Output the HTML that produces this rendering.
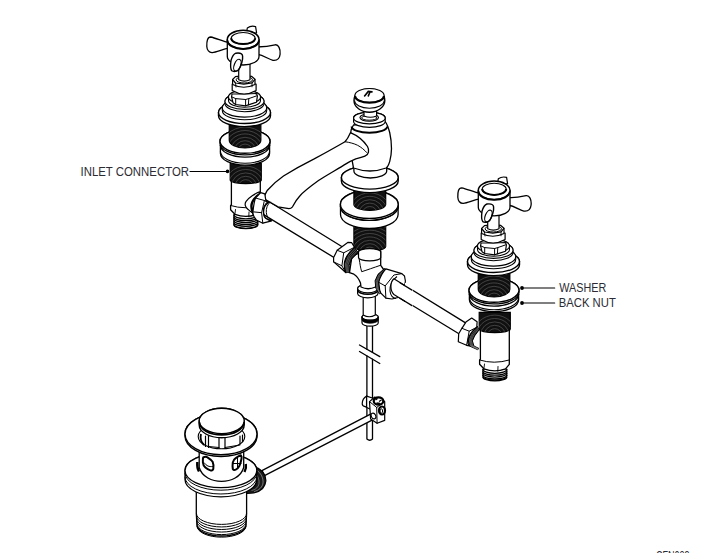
<!DOCTYPE html><html><head><meta charset="utf-8"><style>html,body{margin:0;padding:0;background:#fff;width:720px;height:553px;overflow:hidden}</style></head><body><svg width="720" height="553" viewBox="0 0 720 553" style="position:absolute;left:0;top:0">
<defs><clipPath id="c1"><path d="M353.9,220 L353.9,246.5 A15.9,4.5 0 0 0 385.7,246.5 L385.7,220 Z"/></clipPath><clipPath id="c2"><path d="M353.9,190 L353.9,204.6 A15.9,5.8 0 0 0 385.7,204.6 L385.7,190 Z"/></clipPath><clipPath id="c3"><path d="M230.2,163.4 L230.2,180 A15.55,3.6 0 0 0 261.3,180 L261.3,163.4 Z"/></clipPath><clipPath id="c4"><path d="M229.25,124.3 L229.25,140.2 A15.8,7.8 0 0 0 260.85,140.2 L260.85,124.3 Z"/></clipPath><clipPath id="c5"><path d="M230.2,163.4 L230.2,180 A15.55,3.6 0 0 0 261.3,180 L261.3,163.4 Z"/></clipPath><clipPath id="c6"><path d="M229.25,124.3 L229.25,140.2 A15.8,7.8 0 0 0 260.85,140.2 L260.85,124.3 Z"/></clipPath></defs>
<path d="M262,197.3 L345,248.5 L345,264.2 L262,213.6 Z" fill="#fff" stroke="#000" stroke-width="1.3" stroke-linejoin="round" stroke-linecap="round"/>
<path d="M390,276.3 L470,325.6 L470,340.5 L390,291.7 Z" fill="#fff" stroke="#000" stroke-width="1.3" stroke-linejoin="round" stroke-linecap="round"/>
<path d="M353.9,220 L353.9,246.5 A15.9,4.5 0 0 0 385.7,246.5 L385.7,220 Z" fill="#111" stroke="#000" stroke-width="1.2"/>
<g clip-path="url(#c1)" fill="none" stroke="#fff" stroke-width="0.8" opacity="0.26"><ellipse cx="369.8" cy="254" rx="7.25" ry="6.9"/><ellipse cx="369.8" cy="254" rx="10.82" ry="10.3"/><ellipse cx="369.8" cy="254" rx="14.39" ry="13.7"/><ellipse cx="369.8" cy="254" rx="17.96" ry="17.1"/><ellipse cx="369.8" cy="254" rx="21.53" ry="20.5"/><ellipse cx="369.8" cy="254" rx="25.09" ry="23.9"/><ellipse cx="369.8" cy="254" rx="28.66" ry="27.3"/><ellipse cx="369.8" cy="254" rx="32.23" ry="30.7"/></g>
<path d="M340.5,206.4 L340.5,214.5 A28.8,14 0 0 0 398.1,214.5 L398.1,206.4 A28.8,14 0 0 0 340.5,206.4 Z" fill="#fff" stroke="#000" stroke-width="1.3" stroke-linejoin="round" stroke-linecap="round"/>
<ellipse cx="369.3" cy="206.4" rx="28.8" ry="14" fill="#fff" stroke="#000" stroke-width="1.3"/>
<path d="M340.4,204.4 L340.4,206.3 A28.9,14 0 0 0 398.2,206.3 L398.2,204.4 A28.9,14 0 0 0 340.4,204.4 Z" fill="#fff" stroke="#000" stroke-width="1.3" stroke-linejoin="round" stroke-linecap="round"/>
<ellipse cx="369.3" cy="204.4" rx="28.9" ry="14" fill="#fff" stroke="#000" stroke-width="1.4"/>
<path d="M353.9,190 L353.9,204.6 A15.9,5.8 0 0 0 385.7,204.6 L385.7,190 Z" fill="#111" stroke="#000" stroke-width="1.2"/>
<g clip-path="url(#c2)" fill="none" stroke="#fff" stroke-width="0.8" opacity="0.26"><ellipse cx="369.8" cy="213.4" rx="7.25" ry="6.9"/><ellipse cx="369.8" cy="213.4" rx="10.82" ry="10.3"/><ellipse cx="369.8" cy="213.4" rx="14.39" ry="13.7"/><ellipse cx="369.8" cy="213.4" rx="17.96" ry="17.1"/><ellipse cx="369.8" cy="213.4" rx="21.53" ry="20.5"/></g>
<path d="M341.4,177.5 L341.4,181 A28.4,11.6 0 0 0 398.2,181 L398.2,177.5 A28.4,11.6 0 0 0 341.4,177.5 Z" fill="#fff" stroke="#000" stroke-width="1.4" stroke-linejoin="round" stroke-linecap="round"/>
<ellipse cx="369.8" cy="177.5" rx="28.4" ry="11.6" fill="#fff" stroke="#000" stroke-width="1.4"/>
<path d="M353.9,164 L353.9,171 A16.4,7 0 0 0 386.7,171 L386.7,164 A16.4,7 0 0 0 353.9,164 Z" fill="#fff" stroke="#000" stroke-width="1.3" stroke-linejoin="round" stroke-linecap="round"/>
<path d="M353.5,125 C351.5,128 350.8,131 350.8,132 L351,150 C351.5,158 352.6,164 353.5,168 Q370,174 386.1,168 C389,166 391.3,158 391.5,148.8 C391.5,142 390.5,136 389.7,132.5 C388.5,128 387,124 385.2,121.6 Z" fill="#fff" stroke="#000" stroke-width="1.3" stroke-linejoin="round" stroke-linecap="round"/>
<path d="M351.6,126.5 A17.8,6.2 0 0 0 387.2,126.5" fill="none" stroke="#000" stroke-width="2.0"/>
<path d="M353.6,118 L353.6,121.5 A15.8,5.9 0 0 0 385.2,121.5 L385.2,118 A15.8,5.9 0 0 0 353.6,118 Z" fill="#fff" stroke="#000" stroke-width="1.2" stroke-linejoin="round" stroke-linecap="round"/>
<ellipse cx="369.4" cy="118" rx="15.8" ry="5.9" fill="#fff" stroke="#000" stroke-width="1.2"/>
<ellipse cx="369.2" cy="117.6" rx="9.3" ry="3.6" fill="#fff" stroke="#000" stroke-width="1.1"/>
<ellipse cx="369.2" cy="117.9" rx="7.6" ry="2.3" fill="#fff" stroke="#000" stroke-width="1.0"/>
<path d="M364,107 L364,116 Q370.3,118.5 376.6,116 L376.6,107 Z" fill="#fff" stroke="#000" stroke-width="1.2" stroke-linejoin="round" stroke-linecap="round"/>
<ellipse cx="369.4" cy="100.4" rx="15.4" ry="11.8" fill="#fff" stroke="#000" stroke-width="1.4"/>
<path d="M354.6,100.6 A14.8,7.6 0 0 0 384.2,100.6" fill="none" stroke="#000" stroke-width="1.1"/>
<ellipse cx="369.5" cy="95.5" rx="14.6" ry="7" fill="#fff" stroke="#000" stroke-width="1.2"/>
<path d="M355.1,95.9 A14.4,6.8 0 0 0 383.9,95.9" fill="none" stroke="#000" stroke-width="2.2"/>
<path d="M364.6,96 L368.3,91.4 L372,91.9 M369.8,92.5 L368.3,95.8" fill="none" stroke="#000" stroke-width="1.6" stroke-linecap="round"/>
<path d="M350.4,132.7 C356,135 363,140 367.5,146.5 C369.5,150 369,154.5 364.9,156.2 C362,157.5 358.5,158.3 355.8,158.9 C352,160.5 349,162 346.8,163.4 C336,170 327,175 319.7,179.7 C311,186 304,191 299.8,196 C296,200 294,204 292.5,206.8 Q291,208.6 288.9,208.6 L278,206.8 L265.4,199.6 C264.5,198 264.3,197 264.5,196 C265.5,193.5 266.5,191.8 267.2,190.5 C272,185 277,180.5 283.5,176 C294,169.5 304,164 314.2,158.9 C325,153 335,147.5 345,141.7 C347,139.5 349,136 350.4,132.7 Z" fill="#fff" stroke="#000" stroke-width="1.3" stroke-linejoin="round" stroke-linecap="round"/>
<path d="M345,141.7 C350,142.5 354,143.5 357.6,145.3 C361,147 364.5,150 366.7,152.5" fill="none" stroke="#000" stroke-width="1.0" stroke-linecap="round"/>
<path d="M366.9,322 L366.9,349.2 M372.5,322 L372.5,352.4" fill="none" stroke="#000" stroke-width="1.3" stroke-linecap="round"/>
<path d="M366.9,355.9 L366.9,439 Q369.7,441.5 372.5,439 L372.5,359.2" fill="none" stroke="#000" stroke-width="1.3" stroke-linejoin="round" stroke-linecap="round"/>
<path d="M359.5,345 L379.8,356.6 M359.5,351.5 L379.8,363.5" fill="none" stroke="#000" stroke-width="1.3" stroke-linecap="round"/>
<path d="M362,317 L362,323 A8.1,3.2 0 0 0 378.2,323 L378.2,317 A8.1,3.2 0 0 0 362,317 Z" fill="#fff" stroke="#000" stroke-width="1.2" stroke-linejoin="round" stroke-linecap="round"/>
<ellipse cx="370.1" cy="317" rx="8.1" ry="3.2" fill="#fff" stroke="#000" stroke-width="1.2"/>
<path d="M362,317 A8.1,3.2 0 0 0 378.2,317 L378.2,320 A8.1,3.2 0 0 1 362,320 Z" fill="#000" stroke="#000" stroke-width="0.8" stroke-linejoin="round" stroke-linecap="round"/>
<path d="M363.2,296 L363.2,315 Q369.2,318.5 375.3,315 L375.3,296 Z" fill="#fff" stroke="#000" stroke-width="1.2" stroke-linejoin="round" stroke-linecap="round"/>
<path d="M357.6,288.5 L357.6,293.5 A10.2,4.3 0 0 0 378,293.5 L378,288.5 A10.2,4.3 0 0 0 357.6,288.5 Z" fill="#fff" stroke="#000" stroke-width="1.2" stroke-linejoin="round" stroke-linecap="round"/>
<ellipse cx="367.8" cy="288.5" rx="10.2" ry="4.3" fill="#fff" stroke="#000" stroke-width="1.2"/>
<path d="M357.7,290 A10.1,4.3 0 0 0 377.9,290" fill="none" stroke="#000" stroke-width="1.6"/>
<path d="M358.5,251 L358.5,253.5 L352,256 L349.5,272.7 L353.9,274.2 C357,276 359,279 360.5,283 L361,287 Q368,290.5 375.5,287 L376,283 C377,280.5 378,278 379.4,276 L384,270 L380.7,265.4 L380.7,251 Z" fill="#fff" stroke="#000" stroke-width="1.3" stroke-linejoin="round" stroke-linecap="round"/>
<path d="M358.5,252 L358.5,257.5 A11.1,3.3 0 0 0 380.7,257.5 L380.7,252 A11.1,3.3 0 0 0 358.5,252 Z" fill="#fff" stroke="#000" stroke-width="1.2" stroke-linejoin="round" stroke-linecap="round"/>
<path d="M359.2,259 C360,264 360.5,268 361.7,271.7 C367,270 374,267.5 380.2,265.4" fill="none" stroke="#000" stroke-width="1.0" stroke-linecap="round"/>
<path d="M353.9,247 L347.4,254.6 L344.1,263.3 L345.2,272 L349.5,272.7 L349.2,265.5 L351.7,259 L358.2,252.5 Z" fill="#141414" stroke="#000" stroke-width="1.0" stroke-linejoin="round"/>
<path d="M355.0,248.4 L348.5,255.7 L345.4,263.9 L346.3,272.2" fill="none" stroke="#fff" stroke-width="0.5" opacity="0.55"/>
<path d="M356.0,249.8 L349.5,256.8 L346.6,264.4 L347.4,272.4" fill="none" stroke="#fff" stroke-width="0.5" opacity="0.55"/>
<path d="M357.1,251.1 L350.6,257.9 L347.9,264.9 L348.4,272.5" fill="none" stroke="#fff" stroke-width="0.5" opacity="0.55"/>
<path d="M337.2,250.3 L348.1,242.3 L351.7,242.7 L354.6,247.4 C350,251 346,256 344.5,262 C344,266 344.5,270 345.9,272.7 L341.9,269 L333.6,261.9 L333.6,257.5 Z" fill="#fff" stroke="#000" stroke-width="1.2" stroke-linejoin="round" stroke-linecap="round"/>
<path d="M337.2,250.3 L343.7,252.8 L354,247.5 M343.7,252.8 L341.9,265.8 L333.6,261.9 M341.9,265.8 L345.9,272.7" fill="none" stroke="#000" stroke-width="1.0" stroke-linecap="round"/>
<path d="M384.5,268.5 L378,274.3 L375.1,280.8 L375.8,288 L379.4,293.8 L380.9,293.1 L379.4,289.5 L379,283 L381.6,276.5 L388.1,270.7 Z" fill="#141414" stroke="#000" stroke-width="1.0" stroke-linejoin="round"/>
<path d="M385.4,269.1 L378.9,274.9 L376.1,281.4 L376.7,288.4 L379.8,293.6" fill="none" stroke="#fff" stroke-width="0.5" opacity="0.55"/>
<path d="M386.3,269.6 L379.8,275.4 L377.1,281.9 L377.6,288.8 L380.1,293.5" fill="none" stroke="#fff" stroke-width="0.5" opacity="0.55"/>
<path d="M387.2,270.1 L380.7,275.9 L378.0,282.4 L378.5,289.1 L380.5,293.3" fill="none" stroke="#fff" stroke-width="0.5" opacity="0.55"/>
<path d="M385.9,268.9 L401.8,273.6 L404.5,276 L405.4,281 L404,290 L398,297.5 L392,299 L385.9,298.2 L380.9,293.1 C379.8,291 379.2,289 379.2,286 L378.7,282.3 C380,277 383,272 385.9,268.9 Z" fill="#fff" stroke="#000" stroke-width="1.2" stroke-linejoin="round" stroke-linecap="round"/>
<path d="M378.7,282.3 L385.2,285.9 L393.9,275 L401.8,273.6 M385.2,285.9 L385.9,298.2" fill="none" stroke="#000" stroke-width="1.0" stroke-linecap="round"/>
<path d="M397,276.5 C392,280 389.5,286 390,291 C390.5,295 393,298 396,298.5" fill="none" stroke="#000" stroke-width="1.1"/>
<path d="M393.9,278.8 L412,290 L412,305.7 L393.9,294.5 C391.8,292.5 390.9,290 390.9,286.5 C390.9,283 392,280.5 393.9,278.8 Z" fill="#fff" stroke="#000" stroke-width="1.2" stroke-linejoin="round" stroke-linecap="round"/>
<rect x="405" y="283" width="8" height="25" fill="#fff"/>
<path d="M400,282.8 L412,290.1 M400,298.2 L412,305.6" fill="none" stroke="#000" stroke-width="1.3" stroke-linecap="round"/>
<g id="vl">
<path d="M233.9,214.5 L233.9,224.7 A11.95,4 0 0 0 257.8,224.7 L257.8,214.5 Z" fill="#fff" stroke="#000" stroke-width="1.2" stroke-linejoin="round" stroke-linecap="round"/>
<path d="M233.9,214.8 A11.95,4 0 0 0 257.8,214.8" fill="none" stroke="#000" stroke-width="1.3"/>
<path d="M233.9,216.7 A11.95,4 0 0 0 257.8,216.7" fill="none" stroke="#000" stroke-width="1.3"/>
<path d="M233.9,218.6 A11.95,4 0 0 0 257.8,218.6" fill="none" stroke="#000" stroke-width="1.3"/>
<path d="M233.9,220.5 A11.95,4 0 0 0 257.8,220.5" fill="none" stroke="#000" stroke-width="1.3"/>
<path d="M233.9,222.4 A11.95,4 0 0 0 257.8,222.4" fill="none" stroke="#000" stroke-width="1.3"/>
<path d="M233.9,224.3 A11.95,4 0 0 0 257.8,224.3" fill="none" stroke="#000" stroke-width="1.3"/>
<path d="M231.4,180 L231.4,204.8 L230.6,205.5 L230.6,209.8 L234.9,214.3 Q246,218.5 256.5,214.3 L260.3,209.8 L260.3,180 Z" fill="#fff" stroke="#000" stroke-width="1.3" stroke-linejoin="round" stroke-linecap="round"/>
<path d="M230.6,205.5 Q245,210 260.3,205.5" fill="none" stroke="#000" stroke-width="1.0" stroke-linecap="round"/>
<path d="M234.9,214.3 L235.5,209.5 M248.8,216.8 L249,212" fill="none" stroke="#000" stroke-width="0.9" stroke-linecap="round"/>
<path d="M230.2,163.4 L230.2,180 A15.55,3.6 0 0 0 261.3,180 L261.3,163.4 Z" fill="#111" stroke="#000" stroke-width="1.2"/>
<g clip-path="url(#c3)" fill="none" stroke="#fff" stroke-width="0.8" opacity="0.26"><ellipse cx="245.75" cy="186.6" rx="7.25" ry="6.9"/><ellipse cx="245.75" cy="186.6" rx="10.82" ry="10.3"/><ellipse cx="245.75" cy="186.6" rx="14.39" ry="13.7"/><ellipse cx="245.75" cy="186.6" rx="17.96" ry="17.1"/><ellipse cx="245.75" cy="186.6" rx="21.53" ry="20.5"/></g>
<path d="M220.4,145.15 L220.4,153.2 A24.6,11.95 0 0 0 269.6,153.2 L269.6,145.15 A24.6,11.95 0 0 0 220.4,145.15 Z" fill="#fff" stroke="#000" stroke-width="1.3" stroke-linejoin="round" stroke-linecap="round"/>
<ellipse cx="245" cy="145.15" rx="24.6" ry="11.95" fill="#fff" stroke="#000" stroke-width="1.3"/>
<path d="M220.4,151.25 A24.6,11.95 0 0 0 269.6,151.25" fill="none" stroke="#000" stroke-width="1.1"/>
<path d="M220,141.35 L220,143 A25,11.95 0 0 0 270,143 L270,141.35 A25,11.95 0 0 0 220,141.35 Z" fill="#fff" stroke="#000" stroke-width="1.3" stroke-linejoin="round" stroke-linecap="round"/>
<ellipse cx="245" cy="141.35" rx="25" ry="11.95" fill="#fff" stroke="#000" stroke-width="1.4"/>
<path d="M229.25,124.3 L229.25,140.2 A15.8,7.8 0 0 0 260.85,140.2 L260.85,124.3 Z" fill="#111" stroke="#000" stroke-width="1.2"/>
<g clip-path="url(#c4)" fill="none" stroke="#fff" stroke-width="0.8" opacity="0.26"><ellipse cx="245.05" cy="151" rx="7.25" ry="6.9"/><ellipse cx="245.05" cy="151" rx="10.82" ry="10.3"/><ellipse cx="245.05" cy="151" rx="14.39" ry="13.7"/><ellipse cx="245.05" cy="151" rx="17.96" ry="17.1"/><ellipse cx="245.05" cy="151" rx="21.53" ry="20.5"/><ellipse cx="245.05" cy="151" rx="25.09" ry="23.9"/></g>
<path d="M218.5,112.6 L218.5,115.7 A26,10.9 0 0 0 270.5,115.7 L270.5,112.6 A26,10.9 0 0 0 218.5,112.6 Z" fill="#fff" stroke="#000" stroke-width="1.4" stroke-linejoin="round" stroke-linecap="round"/>
<ellipse cx="244.5" cy="112.6" rx="26" ry="10.9" fill="#fff" stroke="#000" stroke-width="1.4"/>
<path d="M222.3,107.8 L222.3,110.5 A22.2,9.3 0 0 0 266.7,110.5 L266.7,107.8 A22.2,9.3 0 0 0 222.3,107.8 Z" fill="#fff" stroke="#000" stroke-width="1.1" stroke-linejoin="round" stroke-linecap="round"/>
<ellipse cx="244.5" cy="107.8" rx="22.2" ry="9.3" fill="#fff" stroke="#000" stroke-width="1.1"/>
<path d="M225,101.2 L225,103.5 A19.5,8.2 0 0 0 264,103.5 L264,101.2 A19.5,8.2 0 0 0 225,101.2 Z" fill="#fff" stroke="#000" stroke-width="1.1" stroke-linejoin="round" stroke-linecap="round"/>
<ellipse cx="244.5" cy="101.2" rx="19.5" ry="8.2" fill="#fff" stroke="#000" stroke-width="1.1"/>
<path d="M228.5,97 L228.5,100.5 A16,6.7 0 0 0 260.5,100.5 L260.5,97 A16,6.7 0 0 0 228.5,97 Z" fill="#fff" stroke="#000" stroke-width="1.1" stroke-linejoin="round" stroke-linecap="round"/>
<ellipse cx="244.5" cy="97" rx="16" ry="6.7" fill="#fff" stroke="#000" stroke-width="1.1"/>
<path d="M231.6,96.8 L233,102.7 L235.7,104.5 L245.6,105.8 L248.4,104.9 L256.5,102.2 L257.4,96 L256.5,93.5 L245,94 L232,94 Z" fill="#fff" stroke="#000" stroke-width="1.2" stroke-linejoin="round" stroke-linecap="round"/>
<path d="M231.6,96.8 L235.7,98.6 L245.6,99.5 L248.8,98.6 L256.5,95.9" fill="none" stroke="#000" stroke-width="1.0" stroke-linecap="round"/>
<path d="M235.7,98.6 L235.7,104.5 M245.6,99.5 L245.6,105.8 M248.8,98.6 L248.4,104.9" fill="none" stroke="#000" stroke-width="1.0" stroke-linecap="round"/>
<path d="M232.2,84 L232.2,90.5 Q244,97.5 256.1,90.5 L256.1,84 Z" fill="#fff" stroke="#000" stroke-width="1.2" stroke-linejoin="round" stroke-linecap="round"/>
<path d="M232.6,79.5 L232.6,84.5 Q243.8,90 255,84.5 L255,79.5 Z" fill="#fff" stroke="#000" stroke-width="1.2" stroke-linejoin="round" stroke-linecap="round"/>
<path d="M232.6,79.5 L235.5,76.6 L243.8,75.5 L251.5,76.3 L255,79.3 L252,82.8 L243.8,84.2 L235.5,83 Z" fill="#fff" stroke="#000" stroke-width="1.2" stroke-linejoin="round" stroke-linecap="round"/>
<path d="M235.5,83 L236,87 M252,82.8 L252,86.8" fill="none" stroke="#000" stroke-width="0.9" stroke-linecap="round"/>
<ellipse cx="244.3" cy="79.8" rx="8.2" ry="3.2" fill="#fff" stroke="#000" stroke-width="1.0"/>
<path d="M238.7,62 L238.7,79.8 Q244.3,82.5 250,79.8 L250,62 Z" fill="#fff" stroke="#000" stroke-width="1.2" stroke-linejoin="round" stroke-linecap="round"/>
<path d="M259.5,191.9 C256,193 249,197.5 246.1,201.3 C244.5,203.5 244.8,207 248.1,209.4 C249.5,210.8 251.5,212 253,213.1 L258,214 L260.3,194 Z" fill="#fff" stroke="#000" stroke-width="1.2" stroke-linejoin="round" stroke-linecap="round"/>
<path d="M260.5,193.6 C257.5,195.5 252.5,199.5 251.6,204.5 C251,208 252,212 255.5,216.7 C257,218.5 258.5,220 260.3,220.8" fill="none" stroke="#000" stroke-width="2.4"/>
<path d="M260.7,192.7 L264.8,193.9 L266,201.3 L268.5,202.5 C265.5,204.5 263.6,208 263.6,211.9 C263.6,215 264.5,217.5 266,218.4 L271.7,220.8 L262.8,223.2 L256.3,220 C254.5,217.5 253,215.5 253,213.5 C253,211 253.2,209 253.4,207.8 C254,204 254.5,200.5 255.5,198 Z" fill="#fff" stroke="#000" stroke-width="1.2" stroke-linejoin="round" stroke-linecap="round"/>
<path d="M255.5,198 L264.4,200.5 L266,201.3 M264.4,200.5 L261.6,212.7 L253.8,211.9 M261.6,212.7 L262.8,223.2" fill="none" stroke="#000" stroke-width="1.0" stroke-linecap="round"/>
<path d="M268.5,201.5 C264.5,204 263,208.5 263.4,212.5 C263.8,216.5 266,219.5 270.5,221" fill="none" stroke="#000" stroke-width="1.1"/>
<path d="M270.5,201.8 C267.2,204.5 266,208.5 266.3,212.5 C266.6,216 268,218.5 271,219.5" fill="none" stroke="#000" stroke-width="1.0"/>
</g>
<g id="hd">
<path d="M257,47 C262,46.8 270,46 275.1,44.8 C278.5,44.3 280.6,49 280.1,54.2 C279.6,58.5 277.5,60.8 272.9,60.3 C269,59.5 264,55.5 257,54.2 Z" fill="#fff" stroke="#000" stroke-width="1.3" stroke-linejoin="round" stroke-linecap="round"/>
<path d="M229,42.6 C223,41.5 216,38 210.7,37 C207.5,37 206.6,41 206.8,46.4 C207,50 209,52.8 212.3,52.6 C217,52 223,49 229,48.1 Z" fill="#fff" stroke="#000" stroke-width="1.3" stroke-linejoin="round" stroke-linecap="round"/>
<path d="M246.5,33 L247.3,28 Q251,25.3 255.6,26.6 L256.6,33 Z" fill="#fff" stroke="#000" stroke-width="1.2" stroke-linejoin="round" stroke-linecap="round"/>
<path d="M227.3,39.6 L227.3,56.5 A15.85,8.5 0 0 0 259,56.5 L259,39.6 Z" fill="#fff" stroke="#000" stroke-width="1.3" stroke-linejoin="round" stroke-linecap="round"/>
<ellipse cx="243.15" cy="39.5" rx="15.85" ry="9.2" fill="#fff" stroke="#000" stroke-width="1.5"/>
<ellipse cx="243.2" cy="38.3" rx="12" ry="5.8" fill="#fff" stroke="#000" stroke-width="1.1"/>
<path d="M231.2,38.3 A12,5.8 0 0 0 255.2,38.3" fill="none" stroke="#000" stroke-width="2.0"/>
<path d="M227.45,40.5 A15.7,8.6 0 0 0 258.85,40.5" fill="none" stroke="#000" stroke-width="1.8"/>
<path d="M235.9,53.2 C239,52.8 242.2,52.9 242.6,56 C243,59 241.5,66 238.5,70 C237,71.5 233.5,72 231.8,70.8 C230.5,69 230.5,64 231,60.5 C232,57 233.5,54 235.9,53.2 Z" fill="#fff" stroke="#000" stroke-width="1.4" stroke-linejoin="round" stroke-linecap="round"/>
<ellipse cx="237.4" cy="65.2" rx="3.1" ry="6.2" transform="rotate(22 237.4 65.2)" fill="none" stroke="#000" stroke-width="1.2"/>
</g>
<g transform="translate(249,149)">
<path d="M233.9,220.0 L233.9,227.2 A11.95,4 0 0 0 257.8,227.2 L257.8,220.0 Z" fill="#fff" stroke="#000" stroke-width="1.2" stroke-linejoin="round" stroke-linecap="round"/>
<path d="M233.9,220.3 A11.95,4 0 0 0 257.8,220.3" fill="none" stroke="#000" stroke-width="1.3"/>
<path d="M233.9,222.2 A11.95,4 0 0 0 257.8,222.2" fill="none" stroke="#000" stroke-width="1.3"/>
<path d="M233.9,224.1 A11.95,4 0 0 0 257.8,224.1" fill="none" stroke="#000" stroke-width="1.3"/>
<path d="M233.9,226 A11.95,4 0 0 0 257.8,226" fill="none" stroke="#000" stroke-width="1.3"/>
<path d="M233.9,227.9 A11.95,4 0 0 0 257.8,227.9" fill="none" stroke="#000" stroke-width="1.3"/>
<path d="M231.4,180 L231.4,210.3 L230.6,211.0 L230.6,215.3 L234.9,219.8 Q246,224.0 256.5,219.8 L260.3,215.3 L260.3,180 Z" fill="#fff" stroke="#000" stroke-width="1.3" stroke-linejoin="round" stroke-linecap="round"/>
<path d="M230.6,211.0 Q245,215.5 260.3,211.0" fill="none" stroke="#000" stroke-width="1.0" stroke-linecap="round"/>
<path d="M234.9,219.8 L235.5,215.0 M248.8,222.3 L249,217.5" fill="none" stroke="#000" stroke-width="0.9" stroke-linecap="round"/>
<path d="M230.2,163.4 L230.2,180 A15.55,3.6 0 0 0 261.3,180 L261.3,163.4 Z" fill="#111" stroke="#000" stroke-width="1.2"/>
<g clip-path="url(#c5)" fill="none" stroke="#fff" stroke-width="0.8" opacity="0.26"><ellipse cx="245.75" cy="186.6" rx="7.25" ry="6.9"/><ellipse cx="245.75" cy="186.6" rx="10.82" ry="10.3"/><ellipse cx="245.75" cy="186.6" rx="14.39" ry="13.7"/><ellipse cx="245.75" cy="186.6" rx="17.96" ry="17.1"/><ellipse cx="245.75" cy="186.6" rx="21.53" ry="20.5"/></g>
<path d="M220.4,145.15 L220.4,150.7 A24.6,11.95 0 0 0 269.6,150.7 L269.6,145.15 A24.6,11.95 0 0 0 220.4,145.15 Z" fill="#fff" stroke="#000" stroke-width="1.3" stroke-linejoin="round" stroke-linecap="round"/>
<ellipse cx="245" cy="145.15" rx="24.6" ry="11.95" fill="#fff" stroke="#000" stroke-width="1.3"/>
<path d="M220.4,148.75 A24.6,11.95 0 0 0 269.6,148.75" fill="none" stroke="#000" stroke-width="1.1"/>
<path d="M220,141.35 L220,143 A25,11.95 0 0 0 270,143 L270,141.35 A25,11.95 0 0 0 220,141.35 Z" fill="#fff" stroke="#000" stroke-width="1.3" stroke-linejoin="round" stroke-linecap="round"/>
<ellipse cx="245" cy="141.35" rx="25" ry="11.95" fill="#fff" stroke="#000" stroke-width="1.4"/>
<path d="M229.25,124.3 L229.25,140.2 A15.8,7.8 0 0 0 260.85,140.2 L260.85,124.3 Z" fill="#111" stroke="#000" stroke-width="1.2"/>
<g clip-path="url(#c6)" fill="none" stroke="#fff" stroke-width="0.8" opacity="0.26"><ellipse cx="245.05" cy="151" rx="7.25" ry="6.9"/><ellipse cx="245.05" cy="151" rx="10.82" ry="10.3"/><ellipse cx="245.05" cy="151" rx="14.39" ry="13.7"/><ellipse cx="245.05" cy="151" rx="17.96" ry="17.1"/><ellipse cx="245.05" cy="151" rx="21.53" ry="20.5"/><ellipse cx="245.05" cy="151" rx="25.09" ry="23.9"/></g>
<path d="M218.5,112.6 L218.5,115.7 A26,10.9 0 0 0 270.5,115.7 L270.5,112.6 A26,10.9 0 0 0 218.5,112.6 Z" fill="#fff" stroke="#000" stroke-width="1.4" stroke-linejoin="round" stroke-linecap="round"/>
<ellipse cx="244.5" cy="112.6" rx="26" ry="10.9" fill="#fff" stroke="#000" stroke-width="1.4"/>
<path d="M222.3,107.8 L222.3,110.5 A22.2,9.3 0 0 0 266.7,110.5 L266.7,107.8 A22.2,9.3 0 0 0 222.3,107.8 Z" fill="#fff" stroke="#000" stroke-width="1.1" stroke-linejoin="round" stroke-linecap="round"/>
<ellipse cx="244.5" cy="107.8" rx="22.2" ry="9.3" fill="#fff" stroke="#000" stroke-width="1.1"/>
<path d="M225,101.2 L225,103.5 A19.5,8.2 0 0 0 264,103.5 L264,101.2 A19.5,8.2 0 0 0 225,101.2 Z" fill="#fff" stroke="#000" stroke-width="1.1" stroke-linejoin="round" stroke-linecap="round"/>
<ellipse cx="244.5" cy="101.2" rx="19.5" ry="8.2" fill="#fff" stroke="#000" stroke-width="1.1"/>
<path d="M228.5,97 L228.5,100.5 A16,6.7 0 0 0 260.5,100.5 L260.5,97 A16,6.7 0 0 0 228.5,97 Z" fill="#fff" stroke="#000" stroke-width="1.1" stroke-linejoin="round" stroke-linecap="round"/>
<ellipse cx="244.5" cy="97" rx="16" ry="6.7" fill="#fff" stroke="#000" stroke-width="1.1"/>
<path d="M231.6,96.8 L233,102.7 L235.7,104.5 L245.6,105.8 L248.4,104.9 L256.5,102.2 L257.4,96 L256.5,93.5 L245,94 L232,94 Z" fill="#fff" stroke="#000" stroke-width="1.2" stroke-linejoin="round" stroke-linecap="round"/>
<path d="M231.6,96.8 L235.7,98.6 L245.6,99.5 L248.8,98.6 L256.5,95.9" fill="none" stroke="#000" stroke-width="1.0" stroke-linecap="round"/>
<path d="M235.7,98.6 L235.7,104.5 M245.6,99.5 L245.6,105.8 M248.8,98.6 L248.4,104.9" fill="none" stroke="#000" stroke-width="1.0" stroke-linecap="round"/>
<path d="M232.2,84 L232.2,90.5 Q244,97.5 256.1,90.5 L256.1,84 Z" fill="#fff" stroke="#000" stroke-width="1.2" stroke-linejoin="round" stroke-linecap="round"/>
<path d="M232.6,79.5 L232.6,84.5 Q243.8,90 255,84.5 L255,79.5 Z" fill="#fff" stroke="#000" stroke-width="1.2" stroke-linejoin="round" stroke-linecap="round"/>
<path d="M232.6,79.5 L235.5,76.6 L243.8,75.5 L251.5,76.3 L255,79.3 L252,82.8 L243.8,84.2 L235.5,83 Z" fill="#fff" stroke="#000" stroke-width="1.2" stroke-linejoin="round" stroke-linecap="round"/>
<path d="M235.5,83 L236,87 M252,82.8 L252,86.8" fill="none" stroke="#000" stroke-width="0.9" stroke-linecap="round"/>
<ellipse cx="244.3" cy="79.8" rx="8.2" ry="3.2" fill="#fff" stroke="#000" stroke-width="1.0"/>
<path d="M238.7,62 L238.7,79.8 Q244.3,82.5 250,79.8 L250,62 Z" fill="#fff" stroke="#000" stroke-width="1.2" stroke-linejoin="round" stroke-linecap="round"/>
</g>
<path d="M477.1,326 L471,332.3 L468.1,339.5 L469.5,346 L477.5,349.6 L479,348.5 L473.9,346 L472.4,340.9 L474.6,335.9 L479,330 Z" fill="#141414" stroke="#000" stroke-width="1.0" stroke-linejoin="round"/>
<path d="M477.6,327.0 L471.9,333.2 L469.2,339.9 L470.6,346.0 L477.9,349.3" fill="none" stroke="#fff" stroke-width="0.5" opacity="0.55"/>
<path d="M478.1,328.0 L472.8,334.1 L470.2,340.2 L471.7,346.0 L478.2,349.1" fill="none" stroke="#fff" stroke-width="0.5" opacity="0.55"/>
<path d="M478.5,329.0 L473.7,335.0 L471.3,340.5 L472.8,346.0 L478.6,348.8" fill="none" stroke="#fff" stroke-width="0.5" opacity="0.55"/>
<path d="M458.7,333.7 L461.9,328.3 L465.9,322.1 L471.7,318.1 L477.1,321.8 L476.8,327.2 C472,331 469,336 468.1,339.5 C467.5,342 468,344.5 469.5,346 L466.6,345.3 L458.3,341.7 Z" fill="#fff" stroke="#000" stroke-width="1.2" stroke-linejoin="round" stroke-linecap="round"/>
<path d="M461.9,328.3 L469.2,331.2 L476.8,327.2 M469.2,331.2 L466.6,345.3" fill="none" stroke="#000" stroke-width="1.0" stroke-linecap="round"/>
<use href="#hd" transform="translate(251,150.8)"/>
<path d="M372.4,413.1 L261.9,470.6 L264.5,475.6 L374.5,418.9 Z" fill="#fff" stroke="#000" stroke-width="1.3" stroke-linejoin="round" stroke-linecap="round"/>
<path d="M366.6,396.1 C364,397.5 362.3,400.5 362.2,403.7 C362.2,405.5 363.5,406.3 365.1,406.6 C366.5,407.3 368,408.2 369.5,408.8 L372.4,409 L372.4,398 Z" fill="#fff" stroke="#000" stroke-width="1.2" stroke-linejoin="round" stroke-linecap="round"/>
<path d="M366.6,396 L366.6,407" fill="none" stroke="#000" stroke-width="1.3" stroke-linecap="round"/>
<path d="M369.5,401.6 L374.5,397.2 L382.5,399.4 L384.7,401.6 L384.7,420.4 L377.1,423.3 L370.6,418.9 Z" fill="#fff" stroke="#000" stroke-width="1.2" stroke-linejoin="round" stroke-linecap="round"/>
<path d="M369.5,401.6 L376.7,407.4 L384.7,401.6 M376.7,407.4 L377.1,423.3" fill="none" stroke="#000" stroke-width="1.0" stroke-linecap="round"/>
<ellipse cx="378.5" cy="401" rx="4.8" ry="3.6" fill="#fff" stroke="#000" stroke-width="2.2"/>
<path d="M375.5,400 L377.5,398.5 M379,401.5 L381.5,400 M376.5,403 L380,403.5" stroke="#000" stroke-width="1.3"/>
<ellipse cx="382" cy="410.5" rx="3" ry="4" fill="#fff" stroke="#000" stroke-width="2.2"/>
<ellipse cx="381.3" cy="411" rx="1.3" ry="2.2" fill="none" stroke="#000" stroke-width="1"/>
<ellipse cx="373.5" cy="416" rx="2.2" ry="3" transform="rotate(-27 373.5 416)" fill="#fff" stroke="#000" stroke-width="1.1"/>
<path d="M196.3,480 L196.3,513.4 L197,526 A24.6,11 0 0 0 246,526 L246.6,513.4 L246.6,480 Z" fill="#fff" stroke="#000" stroke-width="1.3" stroke-linejoin="round" stroke-linecap="round"/>
<path d="M196.4,513.4 A25.1,11 0 0 0 246.6,513.4" fill="none" stroke="#000" stroke-width="1.0"/>
<path d="M196.55,515.95 A24.95,11 0 0 0 246.45,515.95" fill="none" stroke="#000" stroke-width="1.0"/>
<path d="M196.7,518.5 A24.8,11 0 0 0 246.3,518.5" fill="none" stroke="#000" stroke-width="1.0"/>
<path d="M196.85,521.05 A24.65,11 0 0 0 246.15,521.05" fill="none" stroke="#000" stroke-width="1.0"/>
<path d="M197,523.6 A24.5,11 0 0 0 246,523.6" fill="none" stroke="#000" stroke-width="1.0"/>
<path d="M197.15,526.15 A24.35,11 0 0 0 245.85,526.15" fill="none" stroke="#000" stroke-width="1.0"/>
<path d="M250,466 C253,466.5 255.5,467 257.2,467.7 C260,469.5 262.5,471 263.5,473.1 C265.5,476 266,479 265.8,481.2 C265.5,484 264.5,486.5 262.6,488.5 C260,491 256.5,492.5 253.6,493 L247.2,493.5 L246,480 Z" fill="#1a1a1a" stroke="#000" stroke-width="1.2" stroke-linejoin="round" stroke-linecap="round"/>
<path d="M256,469.5 C261,473 263.5,478 263,483 C262.5,487 259,490.5 254,491.5" fill="none" stroke="#fff" stroke-width="0.6" opacity="0.7"/>
<path d="M253,471 C257.5,474.5 259.5,479 259,483.5 C258.5,487 256,489.5 251.5,490.5" fill="none" stroke="#fff" stroke-width="0.6" opacity="0.6"/>
<path d="M185,470.5 L185,479.6 A35.9,17.2 0 0 0 256.8,479.6 L256.8,470.5 A35.9,17.2 0 0 0 185,470.5 Z" fill="#fff" stroke="#000" stroke-width="1.3" stroke-linejoin="round" stroke-linecap="round"/>
<ellipse cx="220.9" cy="470.5" rx="35.9" ry="17.2" fill="#fff" stroke="#000" stroke-width="1.3"/>
<path d="M185,473 A35.9,17.2 0 0 0 256.8,473" fill="none" stroke="#000" stroke-width="1.0"/>
<path d="M185,476.8 A35.9,17.2 0 0 0 256.8,476.8" fill="none" stroke="#000" stroke-width="1.0"/>
<path d="M197.3,462 C197,466 197.5,469 199,471.5" fill="none" stroke="#000" stroke-width="2.4"/>
<path d="M245.8,464 C246.3,467 246,469.5 244.5,472" fill="none" stroke="#000" stroke-width="2.4"/>
<path d="M199.2,440 L199.2,467.5 C202,477 212,481.4 221.5,481.4 C231,481.4 241,477 243.7,467.5 L243.7,440 Z" fill="#fff" stroke="#000" stroke-width="1.3" stroke-linejoin="round" stroke-linecap="round"/>
<path d="M203.2,457.4 C204.5,456.6 205.8,456.5 206.8,457 C209,458.5 211.5,460 212.6,461.7 C213.5,464 213.8,467 213.3,468.9 C212.8,470.3 211.5,470.8 210.4,470.4 C208.5,469.8 206.8,468.8 205.4,467.5 C203.8,466 203,464.5 202.9,462.4 C202.8,460.5 202.8,458.5 203.2,457.4 Z" fill="#fff" stroke="#000" stroke-width="2.0" stroke-linejoin="round" stroke-linecap="round"/>
<path d="M204.5,463 C206.5,466 209,467 212.5,466.5" fill="none" stroke="#000" stroke-width="1.0" stroke-linecap="round"/>
<path d="M240.8,455.2 C241.6,456 241.8,457.5 241.5,458.8 C241,461.5 240.3,464 239.3,466 C238.5,467.5 237.2,469 235.7,469.7 C234.5,470.2 233.3,469.8 232.8,468.9 C232.5,466.5 232.5,464.5 232.8,462.4 C233.3,460.5 234.3,459 235.7,458.1 C237.5,456.8 239.5,455.5 240.8,455.2 Z" fill="#fff" stroke="#000" stroke-width="2.0" stroke-linejoin="round" stroke-linecap="round"/>
<path d="M237.5,457.5 L237.5,468.5 M233,463.5 L241,463.5" fill="none" stroke="#000" stroke-width="1.0" stroke-linecap="round"/>
<path d="M185,434 L185,435.8 A36,20.7 0 0 0 257,435.8 L257,434 A36,20.7 0 0 0 185,434 Z" fill="#fff" stroke="#000" stroke-width="1.4" stroke-linejoin="round" stroke-linecap="round"/>
<ellipse cx="221" cy="434" rx="36" ry="20.7" fill="#fff" stroke="#000" stroke-width="1.4"/>
<ellipse cx="221.5" cy="436.5" rx="23.3" ry="12.3" fill="#fff" stroke="#000" stroke-width="1.1"/>
<path d="M201,434 C200,438 201,442 204,445" fill="none" stroke="#000" stroke-width="1.8"/>
<path d="M205.5,436 L205.5,446.5 M208.5,436 L208.5,447.5 M219,438 L219,448 M225,438 L225,448 M240,436 L240,444 M242.5,435 L242.5,441.5" fill="none" stroke="#000" stroke-width="1.2" stroke-linecap="round"/>
<path d="M208.5,446.5 L219,447.5 M225,447.5 L240,445" fill="none" stroke="#000" stroke-width="1.0" stroke-linecap="round"/>
<path d="M199.2,420.95 L199.2,425.05 A22.5,12.65 0 0 0 244.2,425.05 L244.2,420.95 A22.5,12.65 0 0 0 199.2,420.95 Z" fill="#fff" stroke="#000" stroke-width="1.4" stroke-linejoin="round" stroke-linecap="round"/>
<ellipse cx="221.7" cy="420.95" rx="22.5" ry="12.65" fill="#fff" stroke="#000" stroke-width="1.4"/>
<path d="M199.4,422.3 A22.3,12.5 0 0 0 244,422.3" fill="none" stroke="#000" stroke-width="1.7"/>
<text x="80.5" y="176.3" font-family="Liberation Sans, sans-serif" font-size="13.6" fill="#2b2b33" textLength="108.5" lengthAdjust="spacingAndGlyphs">INLET CONNECTOR</text>
<path d="M190,171.5 L227,171.5" fill="none" stroke="#000" stroke-width="1.1" stroke-linecap="round"/>
<circle cx="227.5" cy="171.4" r="1.8" fill="#000"/>
<text x="559.2" y="292.2" font-family="Liberation Sans, sans-serif" font-size="12.4" fill="#2b2b33" textLength="47" lengthAdjust="spacingAndGlyphs">WASHER</text>
<text x="656" y="559.5" font-family="Liberation Sans, sans-serif" font-size="12" fill="#2b2b33" textLength="33.5" lengthAdjust="spacingAndGlyphs">CFN023</text>
<text x="558.8" y="306.7" font-family="Liberation Sans, sans-serif" font-size="12.4" fill="#2b2b33" textLength="57" lengthAdjust="spacingAndGlyphs">BACK NUT</text>
<path d="M522,288 L554.7,288 M522,303 L554.7,303" fill="none" stroke="#000" stroke-width="1.1" stroke-linecap="round"/>
<circle cx="522" cy="288" r="1.9" fill="#000"/><circle cx="522" cy="303" r="1.9" fill="#000"/>
</svg></body></html>
